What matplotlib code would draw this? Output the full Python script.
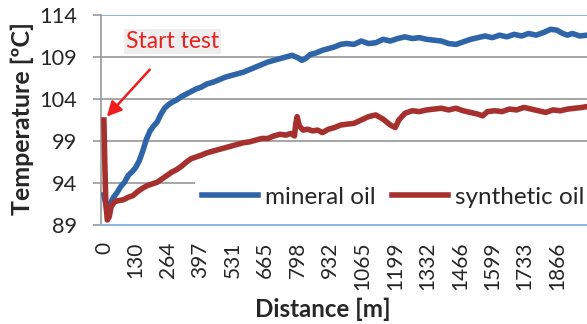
import matplotlib
matplotlib.use("Agg")
import matplotlib.pyplot as plt

plt.rcParams['font.family'] = ['Lato', 'DejaVu Sans']

# distance [m] and temperature [C]
dist_min = [0, 8, 16, 25, 40, 55, 70, 85, 100, 115, 130, 145, 160, 175, 190, 205,
            220, 235, 250, 265, 280, 300, 320, 340, 360, 380, 400, 425, 450, 475,
            500, 525, 550, 575, 600, 625, 650, 675, 700, 725, 750, 775, 800, 815,
            830, 850, 875, 900, 925, 950, 975, 1000, 1030, 1060, 1090, 1120, 1150,
            1180, 1210, 1240, 1270, 1300, 1330, 1360, 1390, 1420, 1450, 1480, 1510,
            1540, 1570, 1600, 1630, 1660, 1690, 1720, 1750, 1780, 1810, 1840, 1866,
            1890, 1910, 1930, 1960, 1990]
temp_min = [92.6, 91.4, 90.9, 91.5, 92.3, 92.9, 93.6, 94.1, 94.9, 95.3, 95.8, 96.6,
            97.8, 99.2, 100.2, 100.8, 101.3, 102.2, 102.9, 103.3, 103.6, 103.9, 104.3,
            104.6, 104.9, 105.2, 105.4, 105.8, 106.0, 106.3, 106.6, 106.8, 107.0,
            107.2, 107.5, 107.8, 108.1, 108.4, 108.6, 108.8, 109.0, 109.2, 108.9,
            108.6, 108.8, 109.3, 109.5, 109.8, 110.0, 110.2, 110.5, 110.6, 110.5,
            110.9, 110.6, 110.7, 111.1, 110.9, 111.2, 111.4, 111.2, 111.3, 111.1,
            111.0, 110.9, 110.6, 110.5, 110.8, 111.1, 111.3, 111.5, 111.3, 111.6,
            111.4, 111.7, 111.5, 111.8, 111.6, 111.9, 112.3, 112.2, 111.8, 111.6,
            111.8, 111.5, 111.6]

dist_syn = [0, 4, 8, 14, 22, 30, 45, 60, 80, 100, 120, 140, 160, 180, 200, 220, 240,
            260, 280, 300, 320, 340, 360, 380, 400, 425, 450, 475, 500, 525, 550, 575,
            600, 625, 650, 675, 700, 725, 750, 770, 785, 790, 796, 805, 820, 840, 860,
            880, 900, 925, 950, 975, 1000, 1030, 1060, 1090, 1120, 1150, 1180, 1200,
            1215, 1240, 1270, 1300, 1330, 1360, 1390, 1420, 1450, 1480, 1510, 1540,
            1560, 1580, 1610, 1640, 1670, 1700, 1730, 1760, 1790, 1820, 1850, 1880,
            1910, 1940, 1970, 1990]
temp_syn = [101.5, 96.0, 91.5, 89.6, 90.0, 91.2, 91.8, 91.9, 92.0, 92.3, 92.5, 93.0,
            93.4, 93.7, 93.9, 94.1, 94.5, 94.9, 95.3, 95.6, 96.0, 96.5, 96.9, 97.1,
            97.3, 97.6, 97.8, 98.0, 98.2, 98.4, 98.6, 98.8, 98.9, 99.1, 99.3, 99.3,
            99.6, 99.8, 99.7, 99.9, 99.6, 101.0, 101.9, 100.8, 100.3, 100.4, 100.2,
            100.3, 100.0, 100.4, 100.6, 100.9, 101.0, 101.1, 101.5, 101.9, 102.1,
            101.6, 100.9, 100.6, 101.5, 102.3, 102.6, 102.5, 102.7, 102.8, 102.9,
            102.7, 102.9, 102.6, 102.4, 102.2, 102.0, 102.5, 102.6, 102.5, 102.8,
            102.7, 103.0, 102.8, 102.6, 102.4, 102.7, 102.6, 102.8, 102.9, 103.0,
            103.1]

xtick_vals = [0, 130, 264, 397, 531, 665, 798, 932, 1065, 1199, 1332, 1466, 1599,
              1733, 1866]
ytick_vals = [89, 94, 99, 104, 109, 114]

fig = plt.figure(figsize=(5.87, 3.24), dpi=100)
ax = fig.add_axes([101 / 587, 1 - 225 / 324, 1 - 101 / 587, 210 / 324])

ax.plot(dist_min, temp_min, color='#2e64a8', lw=4, label='mineral oil', zorder=3)
ax.plot(dist_syn, temp_syn, color='#a6302e', lw=4, label='synthetic oil', zorder=4)

ax.set_xlim(-12, 1990)
ax.set_ylim(89, 114)
ax.set_yticks(ytick_vals)
ax.set_xticks(xtick_vals)
ax.set_xticklabels([str(v) for v in xtick_vals], rotation=90)
ax.tick_params(axis='x', length=0, pad=12, labelsize=15, labelcolor='#262626')
ax.tick_params(axis='y', length=6, width=1.2, color='#999999', pad=11,
               labelsize=15.7, labelcolor='#262626')

for y in ytick_vals[1:-1]:
    ax.axhline(y, color='#a6a6a6', lw=1.4, zorder=1)
ax.axhline(114, color='#8db4e2', lw=1.4, zorder=1)

for s in ['top', 'right']:
    ax.spines[s].set_visible(False)
ax.spines['left'].set_color('#999999')
ax.spines['left'].set_linewidth(1.2)
ax.spines['bottom'].set_color('#8db4e2')
ax.spines['bottom'].set_linewidth(1.4)

leg = ax.legend(loc='center left', bbox_to_anchor=(0.1934, 0.133), ncol=2,
                frameon=True, fancybox=False, fontsize=17.5, handlelength=2.3,
                handletextpad=0.3, columnspacing=0.66, borderpad=0.3,
                borderaxespad=0)
leg.get_frame().set_facecolor('white')
leg.get_frame().set_edgecolor('none')
leg.get_frame().set_alpha(1)
for t in leg.get_texts():
    t.set_color('#262626')

ax.text(284, 110.8, 'Start test', color='#e8201e', fontsize=16.5,
        ha='center', va='center',
        bbox=dict(facecolor='#eeeeee', edgecolor='none', pad=1.5))
ax.annotate('', xy=(12, 101.9), xytext=(189, 107.5),
            arrowprops=dict(arrowstyle='-|>', color='#ee1c1c', lw=1.8,
                            mutation_scale=22, shrinkA=0, shrinkB=0))

fig.text(22 / 587, 1 - 118 / 324, 'Temperature [ºC]', rotation=90, ha='center',
         va='center', fontsize=18, fontweight='bold', color='#262626')
fig.text(323 / 587, 1 - 309 / 324, 'Distance [m]', ha='center', va='center',
         fontsize=17.4, fontweight='bold', color='#262626')

fig.savefig('out.png', dpi=100)
